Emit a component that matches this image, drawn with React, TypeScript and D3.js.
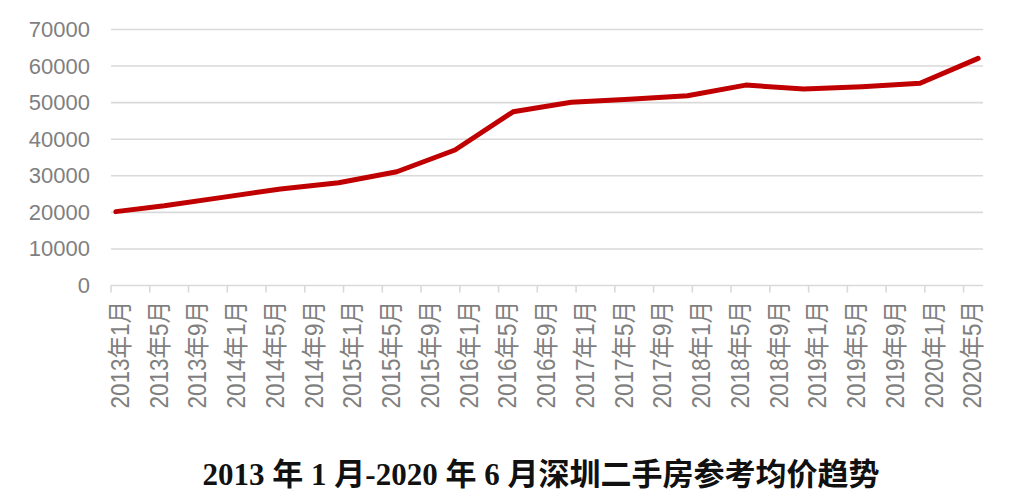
import React from "react";
import * as d3 from "d3";

// ---- data ----
const months = [
  "2013-01", "2013-06", "2013-12", "2014-06", "2014-12", "2015-06", "2015-12", "2016-06",
  "2016-12", "2017-06", "2017-12", "2018-06", "2018-12", "2019-06", "2019-12", "2020-06",
];
const prices = [
  20200, 21800, 24100, 26400, 28100, 31100, 37050, 47500,
  50100, 50900, 51900, 54800, 53700, 54350, 55300, 62100,
];
const tickLabels = [
  "2013年1月", "2013年5月", "2013年9月", "2014年1月", "2014年5月", "2014年9月",
  "2015年1月", "2015年5月", "2015年9月", "2016年1月", "2016年5月", "2016年9月",
  "2017年1月", "2017年5月", "2017年9月", "2018年1月", "2018年5月", "2018年9月",
  "2019年1月", "2019年5月", "2019年9月", "2020年1月", "2020年5月",
];
const yTicks = [0, 10000, 20000, 30000, 40000, 50000, 60000, 70000];
const title = "2013 年 1 月-2020 年 6 月深圳二手房参考均价趋势";

const W = 1029;
const H = 500;
const START_YEAR = 2013;
const N_MONTHS = 90; // 2013-01 .. 2020-06
const LABEL_STEP = 4;

function monthIndex(s: string) {
  const [y, m] = s.split("-").map(Number);
  return (y - START_YEAR) * 12 + (m - 1);
}

export default function App() {
  const left = 111;
  const right = 983;
  const top = 29.5;
  const bottom = 285.5;

  const x = d3.scaleBand<number>().domain(d3.range(N_MONTHS)).range([left, right]).padding(0);
  const y = d3.scaleLinear().domain([0, 70000]).range([bottom, top]);
  const cx = (i: number) => (x(i) as number) + x.bandwidth() / 2;

  const pts = months.map((m, i) => ({ i: monthIndex(m), v: prices[i] }));
  const line = d3
    .line<{ i: number; v: number }>()
    .x((d) => cx(d.i))
    .y((d) => y(d.v));

  const tickBoundaries = d3.range(0, N_MONTHS - 1, LABEL_STEP); // boundaries every 4 months
  const gray = "#7f7f7f";

  return (
    <svg
      width={W}
      height={H}
      style={{ position: "absolute", left: 0, top: 0, background: "#fff" }}
      fontFamily="'Liberation Sans', Arial, 'Noto Sans CJK SC', sans-serif"
    >
      {/* gridlines */}
      {yTicks.map((t) => (
        <line
          key={"g" + t}
          x1={left}
          x2={right}
          y1={y(t)}
          y2={y(t)}
          stroke="#d9d9d9"
          strokeWidth={1.6}
        />
      ))}
      {/* y labels */}
      {yTicks.map((t) => (
        <text
          key={"yl" + t}
          x={90}
          y={y(t)}
          textAnchor="end"
          dominantBaseline="central"
          fontSize={22}
          fill={gray}
        >
          {t}
        </text>
      ))}
      {/* x tick marks */}
      {tickBoundaries.map((i) => (
        <line
          key={"t" + i}
          x1={x(i) as number}
          x2={x(i) as number}
          y1={bottom}
          y2={bottom + 7}
          stroke="#d9d9d9"
          strokeWidth={1.6}
        />
      ))}
      {/* x labels */}
      {tickLabels.map((lab, k) => {
        const px = cx(k * LABEL_STEP) + 4;
        const py = 301;
        return (
          <text
            key={"xl" + k}
            transform={`translate(${px},${py}) rotate(-90) scale(0.9,1)`}
            textAnchor="end"
            dominantBaseline="central"
            fontSize={25}
            fill={gray}
          >
            {lab}
          </text>
        );
      })}
      {/* price line */}
      <path
        d={line(pts) || ""}
        fill="none"
        stroke="#c00000"
        strokeWidth={5}
        strokeLinejoin="round"
        strokeLinecap="round"
      />
      {/* title */}
      <text
        x={541}
        y={485}
        textAnchor="middle"
        fontSize={31}
        fontWeight="bold"
        fill="#111"
        fontFamily="'Liberation Serif', 'Noto Sans CJK SC', serif"
      >
        {title}
      </text>
    </svg>
  );
}
